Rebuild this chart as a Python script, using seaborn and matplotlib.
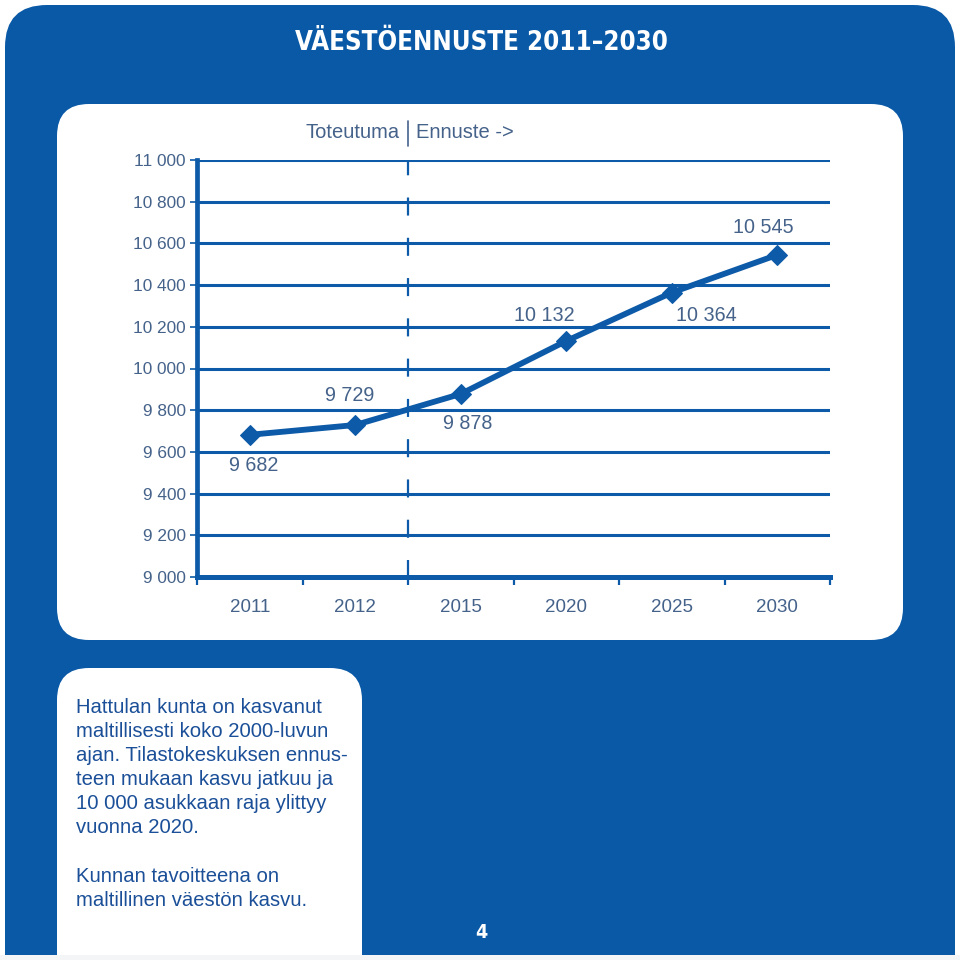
import matplotlib
matplotlib.use("Agg")
import matplotlib.pyplot as plt
from matplotlib.patches import FancyBboxPatch, Rectangle
from matplotlib.lines import Line2D
from matplotlib.ticker import FixedLocator, FuncFormatter
import seaborn as sns
import pandas as pd

# ---- data ----
years = ["2011", "2012", "2015", "2020", "2025", "2030"]
population = [9682, 9729, 9878, 10132, 10364, 10545]
label_text = ["9 682", "9 729", "9 878", "10 132", "10 364", "10 545"]
y_ticks = [9000, 9200, 9400, 9600, 9800, 10000, 10200, 10400, 10600, 10800, 11000]
title = "VÄESTÖENNUSTE 2011–2030"
body1 = ["Hattulan kunta on kasvanut", "maltillisesti koko 2000-luvun",
         "ajan. Tilastokeskuksen ennus-", "teen mukaan kasvu jatkuu ja",
         "10 000 asukkaan raja ylittyy", "vuonna 2020."]
body2 = ["Kunnan tavoitteena on", "maltillinen väestön kasvu."]

BLUE = "#0a59a6"
LINE = "#0c5aa8"
TICKC = "#45628a"
BODYC = "#1b4f98"

sns.set_theme(style="white")
plt.rcParams["font.family"] = ["Liberation Sans", "DejaVu Sans"]
plt.rcParams["lines.scale_dashes"] = False

W = H = 960
fig = plt.figure(figsize=(9.6, 9.6), dpi=100, facecolor="white")

def fx(x):
    return x / W

def fy(y):
    return 1 - y / H

def rbox(x0, y0, x1, y1, r, color, z):
    p = FancyBboxPatch((fx(x0), fy(y1)), fx(x1 - x0), (y1 - y0) / H,
                       boxstyle=f"round,pad=0,rounding_size={r / W}",
                       transform=fig.transFigure, facecolor=color,
                       edgecolor="none", zorder=z)
    fig.add_artist(p)

# background panels
rbox(5, 5, 955, 1000, 42, BLUE, 0)
rbox(57, 104, 903, 640, 32, "white", 1)
rbox(57, 668, 362, 1000, 32, "white", 1)
fig.add_artist(Rectangle((0, 0), 1, 5 / H, transform=fig.transFigure,
                         facecolor="#f4f5f7", edgecolor="none", zorder=2))

# title
fig.text(fx(481), fy(43), title, color="white", fontsize=18.5, fontweight="bold",
         family=["DejaVu Sans"], fontstretch="condensed",
         ha="center", va="center", zorder=3)

# legend text
fig.text(fx(400), fy(133), "Toteutuma", color=TICKC, fontsize=14.5,
         ha="right", va="center", zorder=3)
fig.text(fx(416), fy(133), "Ennuste ->", color=TICKC, fontsize=14.5,
         ha="left", va="center", zorder=3)
fig.add_artist(Line2D([fx(408), fx(408)], [fy(121), fy(146)], color=TICKC,
                      lw=1.2, transform=fig.transFigure, zorder=3))

# axes
ax = fig.add_axes([fx(197), fy(577), fx(830 - 197), (577 - 160) / H])
ax.set_zorder(4)
ax.patch.set_alpha(0)

df = pd.DataFrame({"pos": list(range(len(years))), "pop": population})
for yv in y_ticks[1:]:
    ax.axhline(yv, color=LINE, lw=2.2, zorder=1)
ax.plot([1.5, 1.5], [11000, 9000], color=LINE, lw=1.6,
        ls=(2, (13, 16)), zorder=1)

sns.lineplot(data=df, x="pos", y="pop", ax=ax, color=LINE, lw=4.2,
             marker="D", markersize=10, markeredgecolor=LINE, zorder=5)

offsets = [(4, -31), (-6, 30), (7, -30), (-22, 25), (35, -23), (-14, 27)]
for i, (v, t) in enumerate(zip(population, label_text)):
    ax.annotate(t, (i, v), xytext=offsets[i], textcoords="offset pixels",
                ha="center", va="center", fontsize=14.2, color=TICKC, zorder=6)

ax.set_xlim(-0.5, 5.5)
ax.set_ylim(9000, 11000)
ax.set_xlabel("")
ax.set_ylabel("")

ax.xaxis.set_major_locator(FixedLocator(list(range(len(years)))))
ax.set_xticklabels(years)
ax.xaxis.set_minor_locator(FixedLocator([i - 0.5 for i in range(len(years) + 1)]))
ax.tick_params(axis="x", which="major", length=0, pad=16, labelsize=13.5,
               labelcolor=TICKC)
ax.tick_params(axis="x", which="minor", length=6, width=1.6, color=LINE,
               direction="out", bottom=True)
ax.yaxis.set_major_locator(FixedLocator(y_ticks))
ax.yaxis.set_major_formatter(FuncFormatter(lambda v, p: f"{int(v):,}".replace(",", " ")))
ax.tick_params(axis="y", length=5, width=1.2, color=LINE, pad=3,
               labelsize=12.4, labelcolor=TICKC, left=True)

for s in ["top", "right"]:
    ax.spines[s].set_visible(False)
ax.spines["left"].set_color(LINE)
ax.spines["left"].set_linewidth(3.4)
ax.spines["bottom"].set_color(LINE)
ax.spines["bottom"].set_linewidth(3.6)
ax.grid(False)

# body text
for i, line in enumerate(body1):
    fig.text(fx(76), fy(713 + 24 * i), line, color=BODYC, fontsize=14.6,
             ha="left", va="baseline", zorder=3)
for i, line in enumerate(body2):
    fig.text(fx(76), fy(882 + 24 * i), line, color=BODYC, fontsize=14.6,
             ha="left", va="baseline", zorder=3)

# page number
fig.text(fx(481), fy(932), "4", color="white", fontsize=14, fontweight="bold",
         family=["DejaVu Sans"], fontstretch="condensed",
         ha="center", va="center", zorder=3)

fig.savefig("out.png", dpi=100, facecolor="white")
